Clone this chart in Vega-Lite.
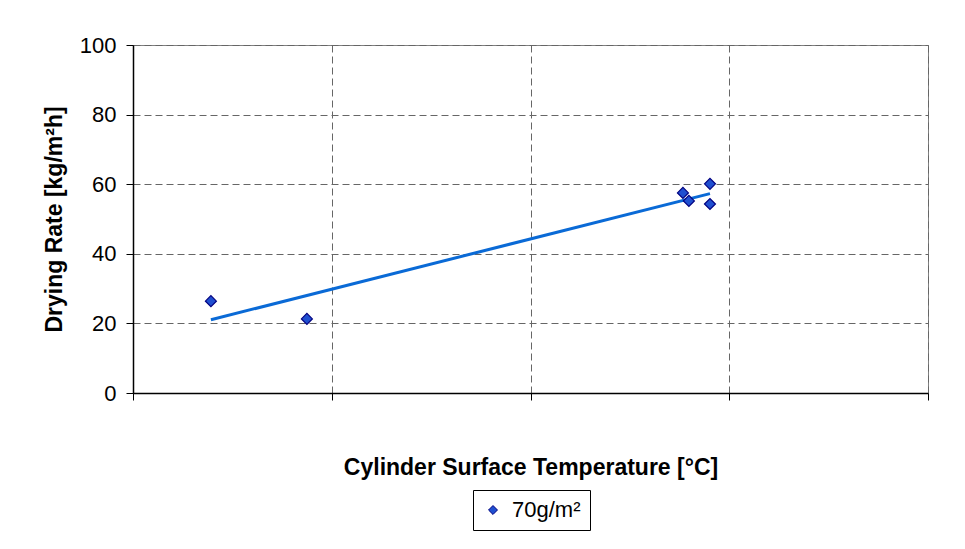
{
  "$schema": "https://vega.github.io/schema/vega-lite/v6.json",
  "width": 795,
  "height": 348,
  "autosize": {"type": "none"},
  "padding": {"left": 133, "top": 45, "right": 37, "bottom": 156},
  "background": "white",
  "config": {
    "font": "Liberation Sans",
    "view": {"stroke": "#808080", "strokeWidth": 1}
  },
  "data": {
    "values": [
      {"temp": 0.392, "rate": 26.4, "series": "70g/m²"},
      {"temp": 0.875, "rate": 21.3, "series": "70g/m²"},
      {"temp": 2.767, "rate": 57.5, "series": "70g/m²"},
      {"temp": 2.797, "rate": 55.2, "series": "70g/m²"},
      {"temp": 2.903, "rate": 60.1, "series": "70g/m²"},
      {"temp": 2.903, "rate": 54.3, "series": "70g/m²"}
    ]
  },
  "layer": [
    {
      "transform": [{"regression": "rate", "on": "temp"}],
      "mark": {"type": "line", "color": "#0a6ad6", "strokeWidth": 3},
      "encoding": {
        "x": {"field": "temp", "type": "quantitative"},
        "y": {"field": "rate", "type": "quantitative"}
      }
    },
    {
      "mark": {"type": "point", "shape": "diamond", "filled": true, "size": 120, "stroke": "#000080", "strokeWidth": 1.2, "opacity": 1},
      "encoding": {
        "x": {
          "field": "temp", "type": "quantitative",
          "scale": {"domain": [0, 4], "nice": false, "zero": false},
          "axis": {
            "values": [0, 1, 2, 3, 4], "labels": false,
            "title": "Cylinder Surface Temperature [°C]",
            "titleFont": "Liberation Sans", "titleFontSize": 23, "titleFontWeight": "bold", "titleColor": "black",
            "titlePadding": 56,
            "domainColor": "black", "domainWidth": 1.5,
            "tickColor": "black", "tickSize": 7, "tickWidth": 1,
            "grid": true, "gridColor": "#666666", "gridDash": [7, 4], "gridWidth": 1
          }
        },
        "y": {
          "field": "rate", "type": "quantitative",
          "scale": {"domain": [0, 100], "nice": false},
          "axis": {
            "values": [0, 20, 40, 60, 80, 100],
            "title": "Drying Rate [kg/m²h]",
            "titleFont": "Liberation Sans", "titleFontSize": 23, "titleFontWeight": "bold", "titleColor": "black",
            "titlePadding": 13,
            "labelFont": "Liberation Sans", "labelFontSize": 22, "labelColor": "black", "labelPadding": 10,
            "domainColor": "black", "domainWidth": 1.5,
            "tickColor": "black", "tickSize": 7, "tickWidth": 1,
            "grid": true, "gridColor": "#666666", "gridDash": [7, 4], "gridWidth": 1
          }
        },
        "color": {
          "field": "series", "type": "nominal",
          "scale": {"domain": ["70g/m²"], "range": ["#1f4fd0"]},
          "legend": {
            "title": null, "orient": "none", "legendX": 340, "legendY": 445,
            "strokeColor": "black", "fillColor": "white", "padding": 9,
            "symbolType": "diamond", "symbolSize": 80, "symbolStrokeColor": "#000080", "symbolStrokeWidth": 1,
            "symbolFillColor": "#1f4fd0",
            "labelFont": "Liberation Sans", "labelFontSize": 22, "labelColor": "black", "labelOffset": 8
          }
        }
      }
    }
  ]
}
